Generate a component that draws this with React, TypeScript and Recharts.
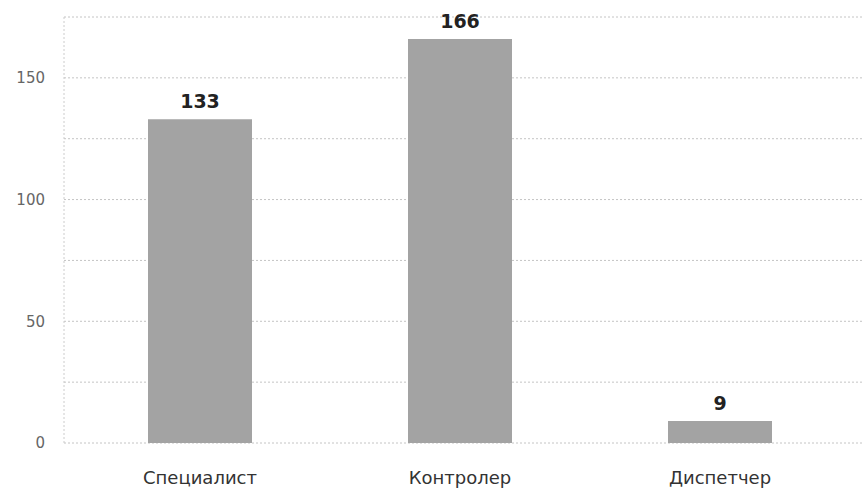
import { BarChart, Bar, XAxis, YAxis, CartesianGrid, LabelList } from 'recharts'

const categories = ['Специалист', 'Контролер', 'Диспетчер']
const counts = [133, 166, 9]
const yTicks = [0, 25, 50, 75, 100, 125, 150, 175]

const data = categories.map((name, i) => ({ name, count: counts[i] }))

export default function App() {
  return (
    <div style={{ position: 'absolute', left: 0, top: 0, background: '#fff' }}>
      <BarChart
        width={864}
        height={488}
        data={data}
        margin={{ top: 17, right: 0, bottom: 0, left: 0 }}
      >
        <CartesianGrid vertical={false} stroke="#c4c4c4" strokeDasharray="2 2" />
        <XAxis
          dataKey="name"
          height={45}
          padding={{ left: 6, right: 14 }}
          axisLine={false}
          tickLine={false}
          tickSize={0}
          tickMargin={28}
          tick={{ fill: '#333', fontSize: 18, fontFamily: 'DejaVu Sans' }}
        />
        <YAxis
          type="number"
          domain={[0, 175]}
          ticks={yTicks}
          interval={0}
          width={64}
          tickFormatter={(v: number) => (v % 50 === 0 ? String(v) : '')}
          axisLine={{ stroke: '#cccccc', strokeDasharray: '2 2' }}
          tickLine={false}
          tickSize={0}
          tickMargin={19}
          tick={{ fill: '#666', fontSize: 15, fontFamily: 'DejaVu Sans' }}
        />
        <Bar dataKey="count" fill="#a3a3a3" barSize={104} isAnimationActive={false}>
          <LabelList
            dataKey="count"
            position="top"
            offset={11}
            style={{ fill: '#222', fontSize: 19, fontWeight: 'bold', fontFamily: 'DejaVu Sans' }}
          />
        </Bar>
      </BarChart>
    </div>
  )
}
